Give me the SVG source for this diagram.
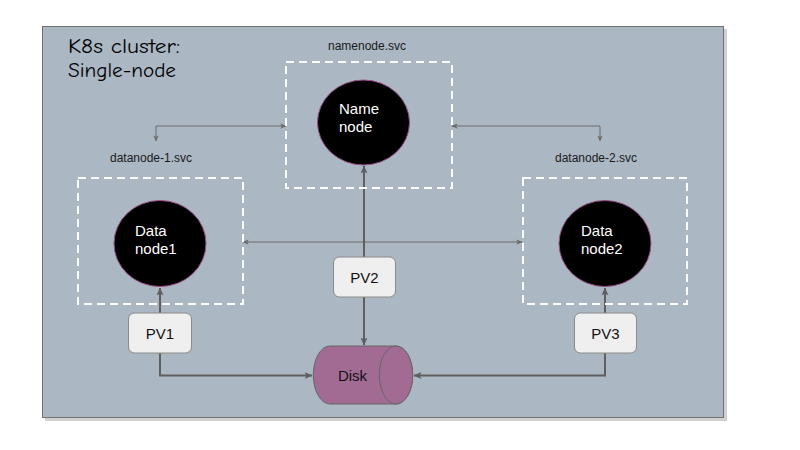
<svg xmlns="http://www.w3.org/2000/svg" width="800" height="450" viewBox="0 0 800 450">
<defs>
<marker id="ah" viewBox="0 0 8 7" refX="7.5" refY="3.5" markerWidth="4" markerHeight="3.5" orient="auto-start-reverse" markerUnits="strokeWidth">
<path d="M0,0 L8,3.5 L0,7 L2,3.5 Z" fill="#5f5f5f"/>
</marker>
<marker id="ahs" viewBox="0 0 8 7" refX="7.5" refY="3.5" markerWidth="6" markerHeight="5.25" orient="auto-start-reverse" markerUnits="strokeWidth">
<path d="M0,0 L8,3.5 L0,7 L2,3.5 Z" fill="#6a6a6a"/>
</marker>
</defs>
<style>
.bg{fill:#abb7c3;stroke:#707070;stroke-width:1}
.dash{fill:none;stroke:#ffffff;stroke-width:2;stroke-dasharray:8,5}
.circ{fill:#000000;stroke:#9a4f86;stroke-width:1}
.wt{font-family:"Liberation Sans",Arial,sans-serif;font-size:15px;fill:#ffffff}
.lbl{font-family:"Liberation Sans",Arial,sans-serif;font-size:12px;fill:#1a1a1a;text-anchor:middle}
.pv{fill:#efefef;stroke:#8a8a8a;stroke-width:1}
.pvt{font-family:"Liberation Sans",Arial,sans-serif;font-size:15px;fill:#111111;text-anchor:middle}
.thick{fill:none;stroke:#5f5f5f;stroke-width:2;marker-end:url(#ah)}
.thin{fill:none;stroke:#6a6a6a;stroke-width:1;marker-start:url(#ahs);marker-end:url(#ahs)}
.title{font-family:"Comic Sans MS","Comic Neue","DejaVu Sans",sans-serif;font-size:20px;fill:#000000}
</style>
<rect x="45" y="29" width="682" height="392" fill="#d0d0d0"/>
<rect class="bg" x="42.5" y="26.5" width="681" height="391"/>
<g id="title">
<text class="title" x="68" y="53" textLength="112" lengthAdjust="spacingAndGlyphs">K8s cluster:</text>
<text class="title" x="68" y="77" textLength="108" lengthAdjust="spacingAndGlyphs">Single-node</text>
</g>
<g id="connectors">
<path class="thin" d="M286,126 H156 V141"/>
<path class="thin" d="M452,126 H600 V141"/>
<path class="thin" d="M243,242 H522"/>
<path class="thick" d="M160,313 V288"/>
<path class="thick" d="M364,257 V166"/>
<path class="thick" d="M605,313 V288"/>
<path class="thick" d="M364,297 V345"/>
<path class="thick" d="M160,353 V375.5 H312"/>
<path class="thick" d="M605,353 V375.5 H414"/>
</g>
<g id="namenode">
<text class="lbl" x="367" y="50">namenode.svc</text>
<rect class="dash" x="286" y="62" width="166" height="126"/>
<ellipse class="circ" cx="363.5" cy="122.5" rx="46" ry="42.5"/>
<text class="wt" x="339" y="114">Name</text>
<text class="wt" x="339" y="132">node</text>
</g>
<g id="datanode1">
<text class="lbl" x="151" y="162">datanode-1.svc</text>
<rect class="dash" x="78" y="178" width="165" height="126"/>
<ellipse class="circ" cx="160" cy="243.5" rx="46" ry="43"/>
<text class="wt" x="135" y="236">Data</text>
<text class="wt" x="135" y="254">node1</text>
</g>
<g id="datanode2">
<text class="lbl" x="596" y="162">datanode-2.svc</text>
<rect class="dash" x="523" y="178" width="164" height="126"/>
<ellipse class="circ" cx="605" cy="243.5" rx="46" ry="43"/>
<text class="wt" x="581" y="236">Data</text>
<text class="wt" x="581" y="254">node2</text>
</g>
<g id="pv1">
<rect class="pv" x="128.5" y="313" width="63" height="40" rx="6"/>
<text class="pvt" x="160" y="339">PV1</text>
</g>
<g id="pv2">
<rect class="pv" x="333.5" y="257" width="62" height="40" rx="6"/>
<text class="pvt" x="364.5" y="283">PV2</text>
</g>
<g id="pv3">
<rect class="pv" x="574.5" y="313" width="62" height="40" rx="6"/>
<text class="pvt" x="605.5" y="339">PV3</text>
</g>
<g id="disk">
<path d="M330,346 H396 A16.7,29 0 0 1 396,404 H330 A16.7,29 0 0 1 330,346 Z" fill="#a16b94" stroke="#666666" stroke-width="1"/>
<ellipse cx="396" cy="375" rx="16.7" ry="29" fill="#a16b94" stroke="#666666" stroke-width="1"/>
<text class="pvt" x="352.5" y="381">Disk</text>
</g>
</svg>
